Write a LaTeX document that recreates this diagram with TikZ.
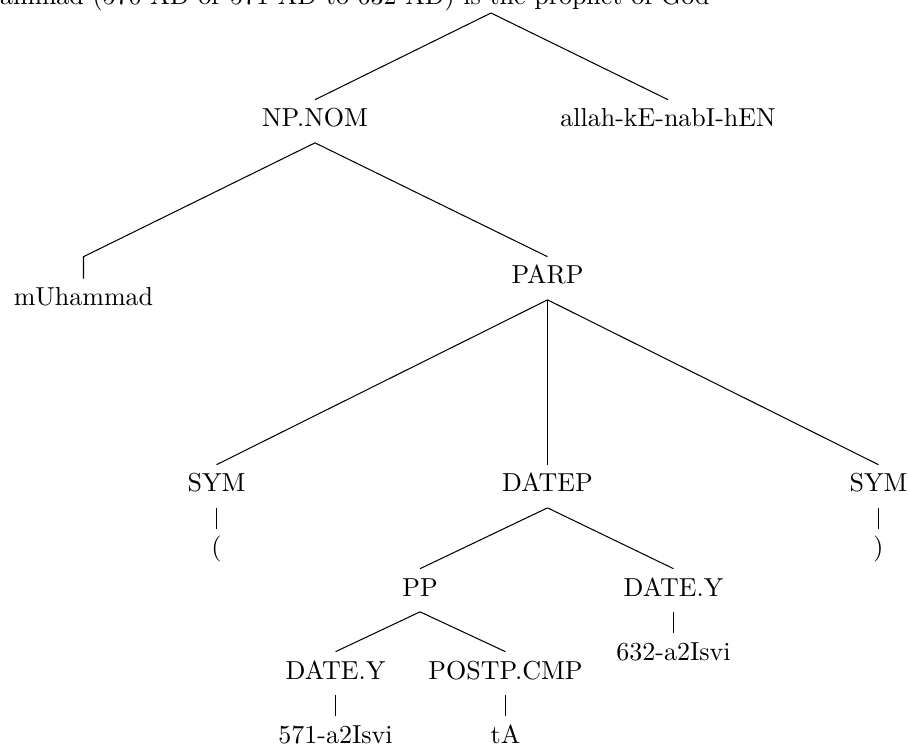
\documentclass[tikz,border=0pt]{standalone}
\begin{document}
\begin{tikzpicture}[x=0.3846pt,y=-0.3846pt,
    lbl/.style={inner sep=3.4pt,text height=6.9pt,text depth=2.5pt,anchor=base}]
     \useasboundingbox (0,0) rectangle (909,745);
     \clip (0,0) rectangle (909,745);
     \node[anchor=base east,inner sep=0pt] (sent) at (710,4.5)
       {Muhammad (570 AD or 571 AD to 632 AD) is the prophet of God};
     \coordinate (top) at (491,13);
     \node[lbl] (np) at (315,127) {NP.NOM};
     \node[lbl] (allah) at (668,127) {allah-kE-nabI-hEN};
     \node[lbl] (muh) at (83.5,306) {mUhammad};
     \node[lbl] (parp) at (547.5,284) {PARP};
     \node[lbl] (lsym) at (216.5,492) {SYM};
     \node[lbl] (datep) at (547.5,492) {DATEP};
     \node[lbl] (rsym) at (878.5,492) {SYM};
     \node[lbl] (lpar) at (216.5,556) {(};
     \node[lbl] (rpar) at (878.5,556) {)};
     \node[lbl] (pp) at (420,596) {PP};
     \node[lbl] (ydate) at (673.5,596) {DATE.Y};
     \node[lbl] (ydatei) at (673.5,660) {632-a2Isvi};
     \node[lbl] (xdate) at (335.5,679) {DATE.Y};
     \node[lbl] (postp) at (505.5,679) {POSTP.CMP};
     \node[lbl] (xdatei) at (335.5,743) {571-a2Isvi};
     \node[lbl] (postpi) at (505.5,743) {tA};
     \foreach \c in {np,allah}
       \draw (top) -- (\c.north);
     \draw (np.south) -- (parp.north);
     \draw (np.south) -- (muh.north |- parp.north) -- (muh.north);
     \foreach \c in {lsym,datep,rsym}
       \draw (parp.south) -- (\c.north);
     \draw (lsym.south) -- (lpar.north);
     \draw (rsym.south) -- (rpar.north);
     \foreach \c in {pp,ydate}
       \draw (datep.south) -- (\c.north);
     \draw (ydate.south) -- (ydatei.north);
     \foreach \c in {xdate,postp}
       \draw (pp.south) -- (\c.north);
     \draw (xdate.south) -- (xdatei.north);
     \draw (postp.south) -- (postpi.north);
   \end{tikzpicture}
\end{document}
